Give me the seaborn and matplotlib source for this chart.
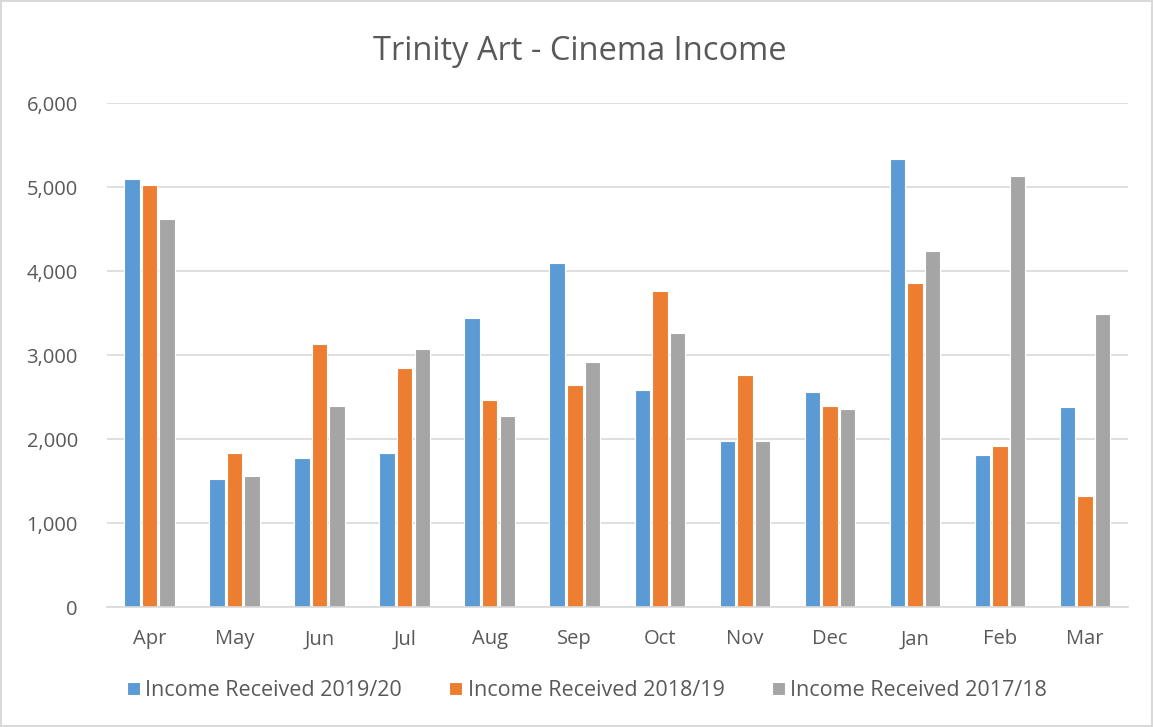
import seaborn as sns
import matplotlib.pyplot as plt
import pandas as pd
from matplotlib.ticker import FuncFormatter

sns.set_theme(style="white")
plt.rcParams['font.family'] = ['Open Sans', 'DejaVu Sans']

months = ["Apr", "May", "Jun", "Jul", "Aug", "Sep", "Oct", "Nov", "Dec", "Jan", "Feb", "Mar"]
income_2019_20 = [5100, 1530, 1772, 1832, 3439, 4100, 2582, 1973, 2565, 5340, 1808, 2388]
income_2018_19 = [5022, 1840, 3137, 2847, 2461, 2650, 3758, 2763, 2392, 3862, 1921, 1325]
income_2017_18 = [4619, 1558, 2400, 3073, 2280, 2916, 3262, 1977, 2360, 4237, 5131, 3492]
series_names = ["Income Received 2019/20", "Income Received 2018/19", "Income Received 2017/18"]
colors = ["#5B9BD5", "#ED7D31", "#A5A5A5"]

df = pd.DataFrame({
    "month": months * 3,
    "income": income_2019_20 + income_2018_19 + income_2017_18,
    "series": [series_names[0]] * 12 + [series_names[1]] * 12 + [series_names[2]] * 12,
})

fig = plt.figure(figsize=(11.53, 7.27), dpi=100)
fig.patch.set_edgecolor("#D9D9D9")
fig.patch.set_linewidth(1.5)
ax = fig.add_axes([0.0928, 0.165, 0.8852, 0.693])

sns.barplot(ax=ax, data=df, x="month", y="income", hue="series", order=months,
            hue_order=series_names, palette=colors, saturation=1, width=0.62, gap=0.12,
            edgecolor="white", linewidth=0.8, legend=True)

ax.set_ylim(0, 6000)
ax.set_yticks(range(0, 6001, 1000))
ax.yaxis.set_major_formatter(FuncFormatter(lambda v, p: f"{int(v):,}"))
ax.grid(axis="y", color="#D9D9D9", linewidth=1.2)
ax.set_axisbelow(True)
for s in ["top", "right", "left"]:
    ax.spines[s].set_visible(False)
ax.spines["bottom"].set_color("#D9D9D9")
ax.spines["bottom"].set_linewidth(1.2)
ax.tick_params(axis="both", length=0, labelsize=14.5, labelcolor="#595959")
ax.tick_params(axis="y", pad=21)
ax.tick_params(axis="x", pad=16)
ax.set_xlabel("")
ax.set_ylabel("")

handles, labels = ax.get_legend_handles_labels()
ax.get_legend().remove()
fig.legend(handles, labels, loc="center", bbox_to_anchor=(0.509, 0.05), ncol=3,
           frameon=False, fontsize=15.5, labelcolor="#595959", handlelength=0.6,
           handleheight=0.6, handletextpad=0.25, columnspacing=2.2)

fig.text(0.503, 0.929, "Trinity Art - Cinema Income", ha="center", va="center",
         fontsize=23.5, color="#595959")

fig.savefig("out.png", dpi=100)
